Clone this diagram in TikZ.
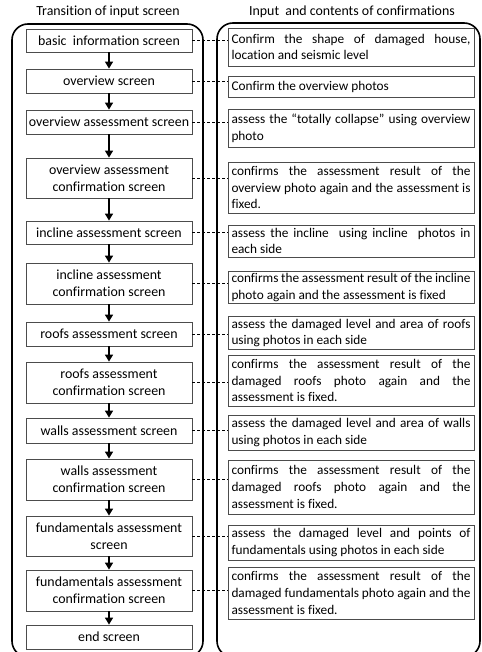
\documentclass[tikz,border=0pt]{standalone}
\usepackage{fontspec}
\setmainfont{Carlito}[Ligatures=CommonOff]
\usetikzlibrary{arrows.meta}
\hyphenpenalty=10000
\exhyphenpenalty=10000

\begin{document}
\begin{tikzpicture}[x=1pt, y=-1pt,
	every node/.style={font=\fontsize{13.9}{17}\selectfont},
	screen/.style={draw=black!70, line width=0.8pt, minimum width=166pt, inner xsep=1pt, inner ysep=2pt, align=center},
	content/.style={draw=black!70, line width=0.8pt, text width=239pt, inner xsep=3.5pt, inner ysep=2pt, align=justify, font=\fontsize{13.3}{16.7}\selectfont},
	frame/.style={line width=1.6pt, rounded corners=16pt},
	flow/.style={-{Triangle[length=7pt,width=8pt]}, line width=1.4pt},
	link/.style={dash pattern=on 3pt off 2pt, line width=0.8pt}]
\useasboundingbox (0,0) rectangle (481,652);

\node (T1) at (108,12) {Transition of input screen};
\node (T2) at (352,12) {Input\ \ and contents of confirmations};

\draw[frame] (12,24) rectangle (203,657);
\draw[frame] (217,23) rectangle (480,657);

\node[screen, minimum height=23pt] (S1) at (109,40.5) {basic\ \ information screen};
\node[screen, minimum height=24pt] (S2) at (109,81) {overview screen};
\node[screen, minimum height=24pt] (S3) at (109,122) {overview assessment screen};
\node[screen, minimum height=40pt] (S4) at (109,178) {overview assessment\\confirmation screen};
\node[screen, minimum height=23pt] (S5) at (109,232.5) {incline assessment screen};
\node[screen, minimum height=41pt] (S6) at (109,283.5) {incline assessment\\confirmation screen};
\node[screen, minimum height=24pt] (S7) at (109,334) {roofs assessment screen};
\node[screen, minimum height=41pt] (S8) at (109,382.5) {roofs assessment\\confirmation screen};
\node[screen, minimum height=25pt] (S9) at (109,430.5) {walls assessment screen};
\node[screen, minimum height=41pt] (S10) at (109,479.5) {walls assessment\\confirmation screen};
\node[screen, minimum height=40pt] (S11) at (109,536) {fundamentals assessment\\screen};
\node[screen, minimum height=41pt] (S12) at (109,590.5) {fundamentals assessment\\confirmation screen};
\node[screen, minimum height=24pt] (S13) at (109,637) {end screen};

\node[content, minimum height=38pt] (R1) at (351,47) {Confirm the shape of damaged house,\linebreak location and seismic level};
\node[content, minimum height=21pt] (R2) at (351,86.5) {Confirm the overview photos};
\node[content, minimum height=38pt] (R3) at (351,128) {assess the ``totally collapse'' using overview\linebreak photo};
\node[content, minimum height=51pt] (R4) at (351,187.5) {confirms the assessment result of the\linebreak overview photo again and the assessment is\linebreak fixed.};
\node[content, minimum height=32pt] (R5) at (351,241) {assess the incline\ \ using incline\ \ photos in\linebreak each side};
\node[content, minimum height=32pt] (R6) at (351,287.5) {confirms the assessment result of the incline\linebreak photo again and the assessment is fixed};
\node[content, minimum height=32pt] (R7) at (351,333) {assess the damaged level and area of roofs\linebreak using photos in each side};
\node[content, minimum height=51pt] (R8) at (351,380.5) {confirms the assessment result of the\linebreak damaged roofs photo again and the\linebreak assessment is fixed.};
\node[content, minimum height=35pt] (R9) at (351,432.5) {assess the damaged level and area of walls\linebreak using photos in each side};
\node[content, minimum height=54pt] (R10) at (351,487) {confirms the assessment result of the\linebreak damaged roofs photo again and the\linebreak assessment is fixed.};
\node[content, minimum height=35pt] (R11) at (351,542.5) {assess the damaged level and points of\linebreak fundamentals using photos in each side};
\node[content, minimum height=52pt] (R12) at (351,593) {confirms the assessment result of the\linebreak damaged fundamentals photo again and the\linebreak assessment is fixed.};

\draw
	(S1) edge[flow] (S2)
	(S2) edge[flow] (S3)
	(S3) edge[flow] (S4)
	(S4) edge[flow] (S5)
	(S5) edge[flow] (S6)
	(S6) edge[flow] (S7)
	(S7) edge[flow] (S8)
	(S8) edge[flow] (S9)
	(S9) edge[flow] (S10)
	(S10) edge[flow] (S11)
	(S11) edge[flow] (S12)
	(S12) edge[flow] (S13)
;

\draw
	(S1.east) edge[link] (S1.east -| R1.west)
	(S2.east) edge[link] (S2.east -| R2.west)
	(S3.east) edge[link] (S3.east -| R3.west)
	(S4.east) edge[link] (S4.east -| R4.west)
	(S5.east) edge[link] (S5.east -| R5.west)
	(S6.east) edge[link] (S6.east -| R6.west)
	(S7.east) edge[link] (S7.east -| R7.west)
	(S8.east) edge[link] (S8.east -| R8.west)
	(S9.east) edge[link] (S9.east -| R9.west)
	(S10.east) edge[link] (S10.east -| R10.west)
	(S11.east) edge[link] (S11.east -| R11.west)
	(S12.east) edge[link] (S12.east -| R12.west)
;
\end{tikzpicture}
\end{document}
